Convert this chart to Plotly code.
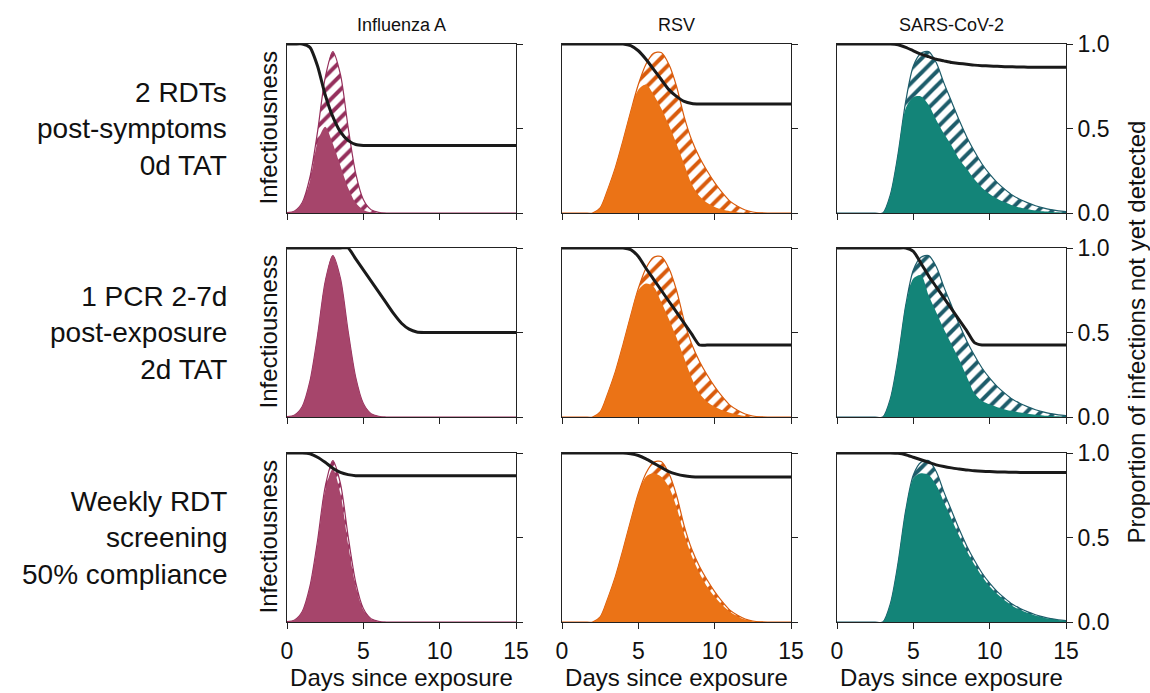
import plotly.graph_objects as go

# ---------------- data ----------------
days = [i * 0.5 for i in range(31)]  # 0 .. 15 days since exposure

pathogens = ["Influenza A", "RSV", "SARS-CoV-2"]
strategies = ["2 RDTs<br>post-symptoms<br>0d TAT",
              "1 PCR 2-7d<br>post-exposure<br>2d TAT",
              "Weekly RDT<br>screening<br>50% compliance"]

# total infectiousness without testing (relative scale)
flu_total = [0.002, 0.012, 0.062, 0.21, 0.48, 0.80, 0.955, 0.82, 0.51, 0.235, 0.08, 0.02, 0.004,
             0, 0, 0, 0, 0, 0, 0, 0, 0, 0, 0, 0, 0, 0, 0, 0, 0, 0]
rsv_total = [0, 0, 0, 0, 0, 0.03, 0.14, 0.27, 0.43, 0.60, 0.76, 0.88, 0.945, 0.95, 0.88, 0.75,
             0.57, 0.43, 0.33, 0.25, 0.18, 0.12, 0.07, 0.04, 0.018, 0.006, 0.001, 0, 0, 0, 0]
sars_total = [0, 0, 0, 0, 0, 0, 0, 0.11, 0.35, 0.66, 0.87, 0.945, 0.955, 0.89, 0.77, 0.66,
              0.55, 0.45, 0.365, 0.29, 0.23, 0.18, 0.14, 0.105, 0.08, 0.06, 0.043, 0.03, 0.02, 0.013, 0.008]

# remaining infectiousness with testing
flu_rem_r1 = [0.002, 0.012, 0.06, 0.19, 0.42, 0.51, 0.41, 0.28, 0.15, 0.06, 0.018, 0.004, 0.001,
              0, 0, 0, 0, 0, 0, 0, 0, 0, 0, 0, 0, 0, 0, 0, 0, 0, 0]
flu_rem_r2 = [0.002, 0.012, 0.062, 0.21, 0.48, 0.80, 0.955, 0.82, 0.51, 0.235, 0.08, 0.02, 0.004,
              0, 0, 0, 0, 0, 0, 0, 0, 0, 0, 0, 0, 0, 0, 0, 0, 0, 0]
flu_rem_r3 = [0.002, 0.012, 0.062, 0.205, 0.47, 0.78, 0.905, 0.76, 0.46, 0.215, 0.072, 0.018, 0.003,
              0, 0, 0, 0, 0, 0, 0, 0, 0, 0, 0, 0, 0, 0, 0, 0, 0, 0]
rsv_rem_r1 = [0, 0, 0, 0, 0, 0.03, 0.14, 0.27, 0.43, 0.60, 0.73, 0.76, 0.70, 0.62, 0.52, 0.41,
              0.29, 0.17, 0.10, 0.06, 0.035, 0.02, 0.01, 0.004, 0.001, 0, 0, 0, 0, 0, 0]
rsv_rem_r2 = [0, 0, 0, 0, 0, 0.03, 0.14, 0.27, 0.43, 0.60, 0.75, 0.79, 0.77, 0.68, 0.58, 0.47,
              0.35, 0.23, 0.14, 0.09, 0.06, 0.04, 0.025, 0.013, 0.005, 0.001, 0, 0, 0, 0, 0]
rsv_rem_r3 = [0, 0, 0, 0, 0, 0.03, 0.14, 0.27, 0.43, 0.60, 0.76, 0.86, 0.88, 0.86, 0.80, 0.68,
              0.52, 0.39, 0.29, 0.21, 0.15, 0.10, 0.06, 0.033, 0.015, 0.005, 0.001, 0, 0, 0, 0]
sars_rem_r1 = [0, 0, 0, 0, 0, 0, 0, 0.11, 0.35, 0.62, 0.685, 0.69, 0.64, 0.55, 0.47, 0.40,
               0.32, 0.26, 0.20, 0.15, 0.113, 0.085, 0.063, 0.045, 0.032, 0.022, 0.015, 0.01, 0.006, 0.004, 0.002]
sars_rem_r2 = [0, 0, 0, 0, 0, 0, 0, 0.11, 0.35, 0.66, 0.82, 0.84, 0.72, 0.62, 0.52, 0.43,
               0.34, 0.24, 0.14, 0.095, 0.075, 0.058, 0.045, 0.035, 0.026, 0.019, 0.013, 0.009, 0.006, 0.004, 0.002]
sars_rem_r3 = [0, 0, 0, 0, 0, 0, 0, 0.11, 0.35, 0.66, 0.85, 0.88, 0.87, 0.81, 0.71, 0.61,
               0.51, 0.42, 0.34, 0.27, 0.21, 0.165, 0.127, 0.095, 0.072, 0.053, 0.038, 0.027, 0.018, 0.012, 0.007]

# proportion of infections not yet detected
flu_p_r1 = [1, 1, 1, 0.98, 0.87, 0.70, 0.57, 0.48, 0.43, 0.405, 0.40, 0.40, 0.40, 0.40, 0.40, 0.40,
            0.40, 0.40, 0.40, 0.40, 0.40, 0.40, 0.40, 0.40, 0.40, 0.40, 0.40, 0.40, 0.40, 0.40, 0.40]
flu_p_r2 = [1, 1, 1, 1, 1, 1, 1, 1, 1, 0.935, 0.87, 0.805, 0.74, 0.675, 0.61, 0.555,
            0.52, 0.503, 0.50, 0.50, 0.50, 0.50, 0.50, 0.50, 0.50, 0.50, 0.50, 0.50, 0.50, 0.50, 0.50]
flu_p_r3 = [1, 1, 1, 0.995, 0.975, 0.945, 0.91, 0.885, 0.872, 0.866, 0.865, 0.865, 0.865, 0.865, 0.865, 0.865,
            0.865, 0.865, 0.865, 0.865, 0.865, 0.865, 0.865, 0.865, 0.865, 0.865, 0.865, 0.865, 0.865, 0.865, 0.865]
rsv_p_r1 = [1, 1, 1, 1, 1, 1, 1, 1, 1, 0.99, 0.96, 0.91, 0.85, 0.79, 0.73, 0.69,
            0.66, 0.648, 0.645, 0.645, 0.645, 0.645, 0.645, 0.645, 0.645, 0.645, 0.645, 0.645, 0.645, 0.645, 0.645]
rsv_p_r2 = [1, 1, 1, 1, 1, 1, 1, 1, 1, 0.99, 0.95, 0.88, 0.815, 0.75, 0.685, 0.62,
            0.555, 0.49, 0.426, 0.426, 0.426, 0.426, 0.426, 0.426, 0.426, 0.426, 0.426, 0.426, 0.426, 0.426, 0.426]
rsv_p_r3 = [1, 1, 1, 1, 1, 1, 1, 1, 1, 0.995, 0.985, 0.965, 0.94, 0.915, 0.89, 0.875,
            0.865, 0.86, 0.858, 0.858, 0.858, 0.858, 0.858, 0.858, 0.858, 0.858, 0.858, 0.858, 0.858, 0.858, 0.858]
sars_p_r1 = [1, 1, 1, 1, 1, 1, 1, 1, 0.995, 0.98, 0.96, 0.94, 0.925, 0.91, 0.90, 0.89,
             0.885, 0.88, 0.875, 0.872, 0.87, 0.868, 0.866, 0.865, 0.864, 0.863, 0.862, 0.862, 0.862, 0.862, 0.862]
sars_p_r2 = [1, 1, 1, 1, 1, 1, 1, 1, 1, 1, 0.98, 0.91, 0.835, 0.77, 0.705, 0.64,
             0.575, 0.51, 0.44, 0.426, 0.426, 0.426, 0.426, 0.426, 0.426, 0.426, 0.426, 0.426, 0.426, 0.426, 0.426]
sars_p_r3 = [1, 1, 1, 1, 1, 1, 1, 1, 0.998, 0.99, 0.975, 0.96, 0.945, 0.93, 0.92, 0.912,
             0.905, 0.90, 0.895, 0.892, 0.89, 0.888, 0.887, 0.886, 0.885, 0.884, 0.884, 0.884, 0.884, 0.884, 0.884]

x_ticks = [0, 5, 10, 15]
y_ticks = [0, 0.5, 1.0]
y_tick_text = ["0.0", "0.5", "1.0"]

totals = [flu_total, rsv_total, sars_total]
remaining = [[flu_rem_r1, rsv_rem_r1, sars_rem_r1],
             [flu_rem_r2, rsv_rem_r2, sars_rem_r2],
             [flu_rem_r3, rsv_rem_r3, sars_rem_r3]]
undetected = [[flu_p_r1, rsv_p_r1, sars_p_r1],
              [flu_p_r2, rsv_p_r2, sars_p_r2],
              [flu_p_r3, rsv_p_r3, sars_p_r3]]

# ---------------- styling ----------------
W, H = 1150, 693
solid_colors = ["#A6456B", "#EB7316", "#138478"]
hatch_colors = ["#952F5C", "#D95B0C", "#1D5C6A"]
FONT = "Liberation Sans, Arial, Helvetica, sans-serif"
TXT = "#111111"

col_px = [(287, 516), (562, 791), (837, 1066)]
row_px = [(44, 213), (248, 417), (453, 622)]

fig = go.Figure()
layout = {}

for r in range(3):
    for c in range(3):
        k = r * 3 + c + 1
        xa = "x" if k == 1 else f"x{k}"
        ya = "y" if k == 1 else f"y{k}"
        # hatched total infectiousness
        fig.add_trace(go.Scatter(
            x=days, y=totals[c], xaxis=xa, yaxis=ya, mode="lines",
            line=dict(color=hatch_colors[c], width=1.2, shape="spline", smoothing=0.8),
            fill="tozeroy", fillcolor="white",
            fillpattern=dict(shape="/", fgcolor=hatch_colors[c], bgcolor="white",
                             size=10, solidity=0.4, fillmode="replace"),
            showlegend=False, hoverinfo="skip"))
        # solid remaining infectiousness
        fig.add_trace(go.Scatter(
            x=days, y=remaining[r][c], xaxis=xa, yaxis=ya, mode="lines",
            line=dict(color=solid_colors[c], width=0, shape="spline", smoothing=0.8),
            fill="tozeroy", fillcolor=solid_colors[c],
            showlegend=False, hoverinfo="skip"))
        # proportion not yet detected
        fig.add_trace(go.Scatter(
            x=days, y=undetected[r][c], xaxis=xa, yaxis=ya, mode="lines",
            line=dict(color="#1a1a1a", width=3, shape="spline", smoothing=0.6),
            showlegend=False, hoverinfo="skip"))

        x0, x1 = col_px[c]
        y0, y1 = row_px[r]
        key_x = "xaxis" if k == 1 else f"xaxis{k}"
        key_y = "yaxis" if k == 1 else f"yaxis{k}"
        layout[key_x] = dict(
            domain=[x0 / W, x1 / W], range=[0, 15], anchor=ya, automargin=False,
            tickvals=x_ticks, ticks="outside", ticklen=6, tickwidth=1, tickcolor="#222",
            showticklabels=(r == 2), tickfont=dict(size=23, color=TXT, family=FONT),
            ticklabelstandoff=2,
            showline=True, linecolor="#222", linewidth=1, mirror=True,
            showgrid=False, zeroline=False,
            title=dict(text="Days since exposure" if r == 2 else "",
                       font=dict(size=24, color=TXT, family=FONT), standoff=2))
        layout[key_y] = dict(
            domain=[1 - y1 / H, 1 - y0 / H], range=[0, 1], anchor=xa, side="right",
            automargin=False,
            tickvals=y_ticks, ticktext=y_tick_text, ticks="outside", ticklen=6, tickwidth=1,
            tickcolor="#222", showticklabels=(c == 2),
            tickfont=dict(size=23, color=TXT, family=FONT),
            showline=True, linecolor="#222", linewidth=1, mirror=True,
            showgrid=False, zeroline=False)

annotations = []
for c in range(3):
    x0, x1 = col_px[c]
    annotations.append(dict(text=pathogens[c], x=(x0 + x1) / 2 / W, y=1 - 25 / H,
                            xref="paper", yref="paper", showarrow=False,
                            xanchor="center", yanchor="middle",
                            font=dict(size=18, color=TXT, family=FONT)))
for r in range(3):
    y0, y1 = row_px[r]
    yc = 1 - (y0 + y1) / 2 / H
    annotations.append(dict(text=strategies[r], x=229 / W, y=yc, xref="paper", yref="paper",
                            showarrow=False, xanchor="right", yanchor="middle", align="right",
                            font=dict(size=28, color=TXT, family=FONT)))
    annotations.append(dict(text="Infectiousness", x=268 / W, y=yc, xref="paper", yref="paper",
                            showarrow=False, xanchor="center", yanchor="middle", textangle=-90,
                            font=dict(size=24, color=TXT, family=FONT)))
annotations.append(dict(text="Proportion of infections not yet detected", x=1136 / W,
                        y=1 - 332.5 / H, xref="paper", yref="paper", showarrow=False,
                        xanchor="center", yanchor="middle", textangle=-90,
                        font=dict(size=24, color=TXT, family=FONT)))

fig.update_layout(
    width=W, height=H, margin=dict(l=0, r=0, t=0, b=0),
    paper_bgcolor="white", plot_bgcolor="white",
    annotations=annotations, showlegend=False, **layout)

fig.write_html("out.html", config={"displayModeBar": False},
               post_script="document.body.style.margin='0px';document.body.style.overflow='hidden';")
